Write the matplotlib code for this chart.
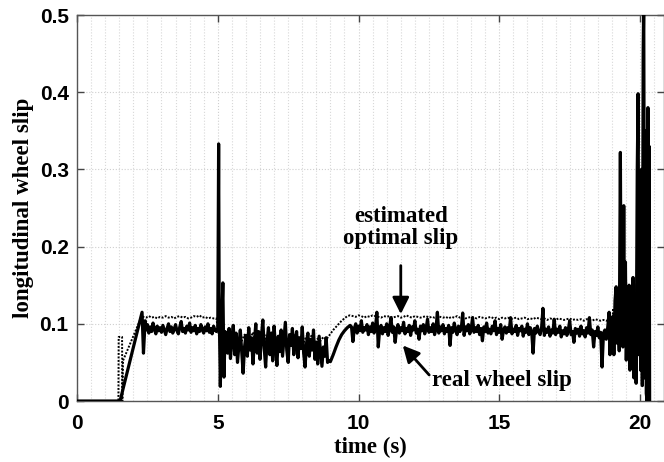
import matplotlib.pyplot as plt
import numpy as np
from matplotlib.ticker import MultipleLocator

# real wheel slip -------------------------------------------------------
real_start_t = [0.0, 1.53, 1.65, 2.31, 2.36, 2.42]
real_start_v = [0.0, 0.0, 0.018, 0.115, 0.062, 0.104]

real_a_t = np.round(np.arange(2.45, 4.951, 0.05), 2)
real_a_v = [0.092, 0.099, 0.088, 0.096, 0.090, 0.101, 0.093, 0.087, 0.097, 0.091,
            0.095, 0.089, 0.098, 0.092, 0.086, 0.094, 0.100, 0.090, 0.096, 0.088,
            0.093, 0.099, 0.091, 0.087, 0.096, 0.103, 0.090, 0.094, 0.088, 0.097,
            0.092, 0.101, 0.089, 0.095, 0.091, 0.098, 0.087, 0.094, 0.090, 0.099,
            0.092, 0.088, 0.096, 0.091, 0.100, 0.089, 0.094, 0.087, 0.097, 0.092,
            0.090]

real_spike_t = [5.00, 5.03, 5.05, 5.09, 5.13, 5.18, 5.22, 5.26]
real_spike_v = [0.095, 0.333, 0.120, 0.019, 0.090, 0.153, 0.031, 0.090]

real_b_t = np.round(np.arange(5.30, 8.951, 0.05), 2)
real_b_v = [0.085, 0.062, 0.094, 0.055, 0.080, 0.098, 0.060, 0.088, 0.050, 0.072,
            0.092, 0.064, 0.036, 0.070, 0.085, 0.058, 0.095, 0.066, 0.082, 0.048,
            0.076, 0.100, 0.062, 0.090, 0.054, 0.083, 0.105, 0.068, 0.044, 0.078,
            0.095, 0.060, 0.088, 0.052, 0.097, 0.070, 0.046, 0.084, 0.064, 0.092,
            0.058, 0.080, 0.102, 0.066, 0.050, 0.086, 0.072, 0.094, 0.060, 0.078,
            0.090, 0.056, 0.082, 0.068, 0.096, 0.062, 0.044, 0.074, 0.088, 0.058,
            0.080, 0.066, 0.092, 0.054, 0.076, 0.048, 0.084, 0.064, 0.045, 0.070,
            0.058, 0.082, 0.050, 0.052]

real_rise_t = [9.0, 9.1, 9.2, 9.3, 9.4, 9.5, 9.6, 9.7]
real_rise_v = [0.051, 0.060, 0.070, 0.079, 0.086, 0.091, 0.095, 0.098]

real_c_t = np.round(np.arange(9.75, 18.801, 0.05), 2)
real_c_v = [0.096, 0.077, 0.094, 0.100, 0.088, 0.097, 0.091, 0.104, 0.089, 0.095,
            0.092, 0.099, 0.086, 0.096, 0.090, 0.101, 0.088, 0.094, 0.115, 0.070,
            0.093, 0.098, 0.087, 0.095, 0.090, 0.100, 0.085, 0.094, 0.108, 0.089,
            0.096, 0.076, 0.092, 0.099, 0.088, 0.095, 0.091, 0.102, 0.087, 0.094,
            0.090, 0.098, 0.085, 0.096, 0.092, 0.104, 0.088, 0.093, 0.080, 0.097,
            0.091, 0.099, 0.087, 0.094, 0.106, 0.089, 0.095, 0.090, 0.100, 0.086,
            0.093, 0.115, 0.088, 0.096, 0.091, 0.099, 0.087, 0.094, 0.090, 0.098,
            0.072, 0.095, 0.089, 0.101, 0.092, 0.086, 0.097, 0.090, 0.094, 0.114,
            0.085, 0.096, 0.091, 0.099, 0.087, 0.093, 0.108, 0.089, 0.095, 0.090,
            0.098, 0.086, 0.094, 0.078, 0.096, 0.090, 0.101, 0.088, 0.093, 0.087,
            0.097, 0.091, 0.104, 0.086, 0.094, 0.089, 0.099, 0.080, 0.092, 0.096,
            0.088, 0.095, 0.090, 0.108, 0.087, 0.093, 0.090, 0.098, 0.085, 0.094,
            0.091, 0.097, 0.084, 0.093, 0.089, 0.100, 0.086, 0.095, 0.090, 0.062,
            0.094, 0.088, 0.097, 0.090, 0.086, 0.094, 0.120, 0.085, 0.093, 0.089,
            0.096, 0.084, 0.092, 0.088, 0.106, 0.086, 0.093, 0.089, 0.097, 0.083,
            0.091, 0.087, 0.095, 0.085, 0.092, 0.104, 0.086, 0.090, 0.076, 0.094,
            0.088, 0.093, 0.084, 0.097, 0.087, 0.091, 0.083, 0.095, 0.088, 0.108,
            0.086, 0.092, 0.070, 0.090, 0.085, 0.096, 0.082, 0.089, 0.044, 0.088,
            0.092, 0.080]

real_end_t = [18.85, 18.90, 18.93, 18.97, 19.00, 19.04, 19.07, 19.11, 19.15, 19.18,
              19.22, 19.26, 19.30, 19.33, 19.36, 19.39, 19.42, 19.45, 19.48, 19.51,
              19.55, 19.58, 19.61, 19.64, 19.68, 19.71, 19.75, 19.78, 19.82, 19.86,
              19.90, 19.93, 19.96, 19.99, 20.02, 20.05, 20.08, 20.11, 20.13, 20.16,
              20.19, 20.22, 20.25, 20.28, 20.30, 20.32, 20.34]
real_end_v = [0.095, 0.115, 0.060, 0.105, 0.070, 0.110, 0.060, 0.130, 0.148, 0.075,
              0.120, 0.065, 0.322, 0.080, 0.200, 0.070, 0.253, 0.075, 0.180, 0.053,
              0.140, 0.060, 0.150, 0.040, 0.130, 0.055, 0.160, 0.030, 0.130, 0.023,
              0.300, 0.398, 0.060, 0.250, 0.040, 0.300, 0.020, 0.450, 0.520, 0.030,
              0.350, 0.010, 0.000, 0.380, 0.100, 0.330, -0.010]

# estimated optimal slip ------------------------------------------------
est_start_t = [0.0, 1.47, 1.48, 1.60, 1.61, 1.63, 2.30]
est_start_v = [0.0, 0.0, 0.083, 0.083, 0.0, 0.052, 0.110]

est_a_t = np.round(np.arange(2.35, 4.951, 0.1), 2)
est_a_v = [0.109, 0.108, 0.110, 0.108, 0.109, 0.107, 0.109, 0.108, 0.110, 0.108,
           0.109, 0.107, 0.109, 0.110, 0.108, 0.109, 0.107, 0.108, 0.110, 0.109,
           0.111, 0.108, 0.109, 0.107, 0.108, 0.107, 0.107]

est_b_t = np.round(np.arange(5.05, 8.851, 0.1), 2)
est_b_v = [0.082, 0.076, 0.085, 0.072, 0.080, 0.088, 0.075, 0.082, 0.078, 0.086,
           0.073, 0.081, 0.089, 0.076, 0.083, 0.079, 0.087, 0.074, 0.082, 0.090,
           0.077, 0.084, 0.080, 0.088, 0.075, 0.083, 0.079, 0.086, 0.078, 0.082,
           0.076, 0.084, 0.080, 0.086, 0.074, 0.081, 0.078, 0.083, 0.080]

est_rise_t = [8.9, 9.0, 9.1, 9.2, 9.3, 9.4, 9.5, 9.6, 9.7]
est_rise_v = [0.082, 0.087, 0.092, 0.096, 0.100, 0.104, 0.107, 0.110, 0.111]

est_c_t = np.round(np.arange(9.8, 18.801, 0.1), 2)
est_c_v = [0.110, 0.109, 0.111, 0.110, 0.108, 0.110, 0.109, 0.111, 0.110, 0.109,
           0.108, 0.110, 0.109, 0.110, 0.108, 0.109, 0.110, 0.108, 0.109, 0.111,
           0.109, 0.108, 0.110, 0.109, 0.108, 0.109, 0.110, 0.108, 0.109, 0.108,
           0.110, 0.109, 0.108, 0.109, 0.107, 0.109, 0.108, 0.110, 0.108, 0.109,
           0.107, 0.108, 0.109, 0.108, 0.107, 0.109, 0.108, 0.107, 0.108, 0.109,
           0.107, 0.108, 0.106, 0.108, 0.107, 0.108, 0.106, 0.107, 0.108, 0.106,
           0.107, 0.108, 0.106, 0.107, 0.106, 0.108, 0.107, 0.106, 0.107, 0.105,
           0.107, 0.106, 0.105, 0.107, 0.106, 0.105, 0.106, 0.107, 0.105, 0.106,
           0.105, 0.106, 0.104, 0.106, 0.105, 0.104, 0.106, 0.105, 0.104, 0.105,
           0.104]

est_end_t = [18.9, 19.0, 19.05, 19.1, 19.2, 19.25, 19.3, 19.35, 19.4, 19.45,
             19.5, 19.55, 19.6, 19.7, 19.8, 19.85, 19.9, 19.95, 20.0, 20.05,
             20.1, 20.15, 20.2, 20.25, 20.3]
est_end_v = [0.105, 0.100, 0.120, 0.090, 0.140, 0.085, 0.160, 0.090, 0.174, 0.100,
             0.160, 0.080, 0.130, 0.100, 0.150, 0.080, 0.200, 0.100, 0.243, 0.120,
             0.270, 0.100, 0.200, 0.050, 0.100]

real_t = np.concatenate([real_start_t, real_a_t, real_spike_t, real_b_t,
                         real_rise_t, real_c_t, real_end_t])
real_v = np.concatenate([real_start_v, real_a_v, real_spike_v, real_b_v,
                         real_rise_v, real_c_v, real_end_v])
est_t = np.concatenate([est_start_t, est_a_t, est_b_t, est_rise_t, est_c_t, est_end_t])
est_v = np.concatenate([est_start_v, est_a_v, est_b_v, est_rise_v, est_c_v, est_end_v])

serif = {'family': 'Liberation Serif', 'weight': 'bold', 'size': 16.5}

fig = plt.figure(figsize=(6.64, 4.62), dpi=100)
ax = fig.add_axes([0.116, 0.132, 0.884, 0.8355])

ax.plot(real_t, real_v, color='black', lw=2.3, zorder=3)
ax.plot(est_t, est_v, color='black', lw=1.4, linestyle=(0, (1, 0.8)), zorder=4)

ax.set_xlim(0, 20.85)
ax.set_ylim(0, 0.5)
ax.xaxis.set_major_locator(MultipleLocator(5))
ax.xaxis.set_minor_locator(MultipleLocator(0.5))
ax.set_yticks([0, 0.1, 0.2, 0.3, 0.4, 0.5])
ax.set_yticklabels(['0', '0.1', '0.2', '0.3', '0.4', '0.5'])

ax.grid(which='major', color='#cfcfcf', linestyle=':', lw=0.8)
ax.grid(which='minor', axis='x', color='#d8d8d8', linestyle=':', lw=0.8)
ax.tick_params(which='major', direction='in', top=True, right=True, length=5,
               width=1, color='#444444', pad=6)
ax.tick_params(axis='x', which='major', pad=9)
ax.tick_params(which='minor', length=0)
for lab in ax.get_xticklabels() + ax.get_yticklabels():
    lab.set_fontfamily('Liberation Sans')
    lab.set_fontweight('bold')
    lab.set_fontsize(15)
for sp in ax.spines.values():
    sp.set_color('#555555')
    sp.set_linewidth(1.0)

ax.set_xlabel('time (s)', fontdict=serif, labelpad=3)
ax.set_ylabel('longitudinal wheel slip', fontdict=serif, labelpad=4)

ax.text(11.5, 0.225, 'estimated\noptimal slip', fontdict=serif,
        ha='center', va='center', multialignment='center', linespacing=1.05)
ax.annotate('', xy=(11.5, 0.109), xytext=(11.5, 0.179),
            arrowprops=dict(arrowstyle='-|>', color='black', lw=2, mutation_scale=25))
ax.annotate('real wheel slip', xy=(11.57, 0.072), xytext=(15.09, 0.027),
            fontsize=16.5, fontfamily='Liberation Serif', fontweight='bold',
            ha='center', va='center',
            arrowprops=dict(arrowstyle='-|>', color='black', lw=2, mutation_scale=25,
                            shrinkA=0, shrinkB=0, relpos=(0.0, 0.6)))

fig.savefig('out.png', dpi=100)
